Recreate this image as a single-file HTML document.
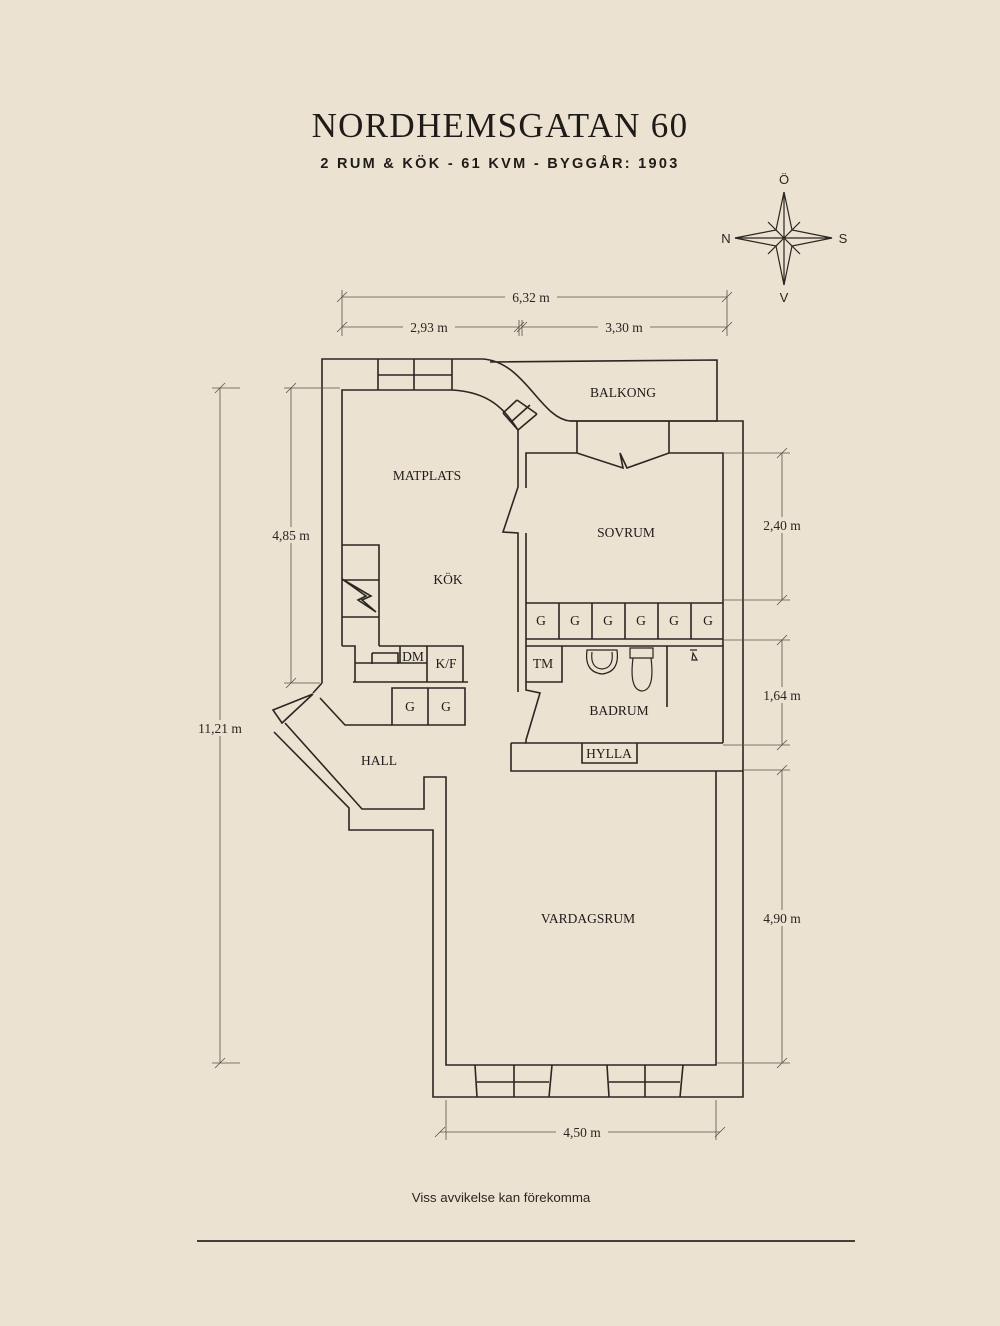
<!DOCTYPE html>
<html><head><meta charset="utf-8"><style>
html,body{margin:0;padding:0;background:#ebe2d1;}
svg{display:block}
</style></head><body>
<svg width="1000" height="1326" viewBox="0 0 1000 1326" xmlns="http://www.w3.org/2000/svg">
<rect width="1000" height="1326" fill="#ebe2d1"/>
<text x="500" y="137" text-anchor="middle" font-family="Liberation Serif, serif" font-size="35" fill="#1e1b18" letter-spacing="1.3">NORDHEMSGATAN 60</text>
<text x="500" y="168" text-anchor="middle" font-family="Liberation Sans, sans-serif" font-size="14.5" font-weight="bold" fill="#1e1b18" letter-spacing="2.3">2 RUM &amp; KÖK  -  61 KVM  -  BYGGÅR: 1903</text>

<!-- compass -->
<g stroke="#2a2622" stroke-width="1.2" fill="none">
<path d="M784,192 L792,230 L832,238 L792,246 L784,285 L776,246 L735,238 L776,230 Z"/>
<path d="M784,192 L784,285 M735,238 L832,238"/>
<path d="M776,230 L784,238 L792,230 M776,246 L784,238 L792,246"/>
<path d="M768,222 L778,232 M800,222 L790,232 M768,254 L778,244 M800,254 L790,244"/>
</g>
<g font-family="Liberation Sans, sans-serif" font-size="13" fill="#2a2622" text-anchor="middle">
<text x="784" y="184">Ö</text><text x="726" y="243">N</text><text x="843" y="243">S</text><text x="784" y="302">V</text>
</g>

<g stroke="#2a2622" stroke-width="1.6" fill="none" stroke-linejoin="miter">
<!-- outer walls -->
<path d="M322,683 L322,359 L483,359 C525,362 540,418 570,421 L717,421 L717,360 L490,362"/>
<path d="M570,421 L743,421 L743,1097 L433,1097 L433,830 L349,830 L349,808 L274,732"/>
<!-- kitchen inner -->
<path d="M342,646 L342,390 L452,390 C490,392 505,410 518,430 L518,487 L503,532 L518,533 L518,692"/>
<path d="M378,359 L378,390 M414,359 L414,390 M452,359 L452,390 M378,375 L452,375"/>
<path d="M503,413 L517,400 M511,422 L530,405 M518,430 L537,414 M503,413 L518,430 M517,400 L537,414"/>
<!-- stove -->
<path d="M342,545 L379,545 L379,646 M342,580 L379,580 M342,617 L379,617 M342,579 L371,596 L362,600 L376,612 L358,600 L366,596 Z"/>
<path d="M342,646 L355,646 L355,682 M355,663 L427,663 M379,646 L463,646 L463,682 M400,646 L400,663 M427,646 L427,682 M372,653 L398,653 L398,664 M372,653 L372,664"/>
<path d="M353,682 L468,682"/>
<!-- hall G G -->
<path d="M392,688 L465,688 L465,725 L392,725 Z M428,688 L428,725"/>
<path d="M320,698 L345,725 L392,725"/>
<path d="M322,683 L313,693 M313,694 L273,710 L282,723 L313,694"/>
<path d="M285,723 L362,809 L424,809 L424,777 L446,777 L446,1065 L716,1065 L716,771"/>
<!-- sovrum -->
<path d="M526,488 L526,453 L577,453 L623,468 L620,453 L627,468 L669,453 L723,453 L723,743"/>
<path d="M577,421 L577,453 M669,421 L669,453"/>
<path d="M526,533 L526,690 L540,693 L526,740 L526,743 L723,743"/>
<path d="M526,603 L723,603 M526,639 L723,639 M559,603 L559,639 M592,603 L592,639 M625,603 L625,639 M658,603 L658,639 M691,603 L691,639"/>
<path d="M526,646 L723,646 M526,682 L562,682 L562,646 M667,646 L667,707"/>
<path d="M511,743 L511,771 L743,771 M511,743 L526,743"/>
<path d="M582,743 L582,763 L637,763 L637,743"/>
<!-- windows bottom -->
<path d="M475,1065 L477,1097 M514,1065 L514,1097 M552,1065 L549,1097 M477,1082 L549,1082"/>
<path d="M607,1065 L609,1097 M645,1065 L645,1097 M683,1065 L680,1097 M609,1082 L680,1082"/>
</g>
<g stroke="#2a2622" stroke-width="1.2" fill="none">
<path d="M587,650 Q584,672 602,674 Q620,672 617,650 Z M592,652 Q590,668 602,669 Q614,668 612,652"/>
<path d="M630,648 L653,648 L653,658 L630,658 Z M633,658 Q629,690 642,691 Q655,690 651,658"/>
<path d="M690,650 L697,650 M693,653 L692,660 L697,660 Z"/>
</g>

<!-- dimension lines -->
<g stroke="#5a534c" stroke-width="0.8" fill="none">
<path d="M342,297 L727,297 M342,327 L519,327 M522,327 L727,327"/>
<path d="M342,290 L342,336 M727,290 L727,336 M519,320 L519,336 M522,320 L522,336"/>
<path d="M337,302 L347,292 M722,302 L732,292 M337,332 L347,322 M514,332 L524,322 M517,332 L527,322 M722,332 L732,322"/>
<path d="M220,388 L220,1063 M212,388 L240,388 M212,1063 L240,1063 M215,393 L225,383 M215,1068 L225,1058"/>
<path d="M291,388 L291,683 M284,388 L340,388 M284,683 L320,683 M286,393 L296,383 M286,688 L296,678"/>
<path d="M782,453 L782,600 M782,640 L782,745 M782,770 L782,1063"/>
<path d="M723,453 L790,453 M723,600 L790,600 M723,640 L790,640 M723,745 L790,745 M743,770 L790,770 M716,1063 L790,1063"/>
<path d="M777,458 L787,448 M777,605 L787,595 M777,645 L787,635 M777,750 L787,740 M777,775 L787,765 M777,1068 L787,1058"/>
<path d="M440,1132 L720,1132 M446,1100 L446,1140 M716,1100 L716,1140 M435,1137 L445,1127 M715,1137 L725,1127"/>
</g>
<g font-family="Liberation Serif, serif" font-size="13.5" fill="#2a2622" text-anchor="middle">
<rect x="505" y="289" width="52" height="16" fill="#ebe2d1"/><text x="531" y="302">6,32 m</text>
<rect x="403" y="319" width="52" height="16" fill="#ebe2d1"/><text x="429" y="332">2,93 m</text>
<rect x="598" y="319" width="52" height="16" fill="#ebe2d1"/><text x="624" y="332">3,30 m</text>
<rect x="193" y="720" width="54" height="16" fill="#ebe2d1"/><text x="220" y="733">11,21 m</text>
<rect x="266" y="527" width="50" height="16" fill="#ebe2d1"/><text x="291" y="540">4,85 m</text>
<rect x="757" y="517" width="50" height="16" fill="#ebe2d1"/><text x="782" y="530">2,40 m</text>
<rect x="757" y="687" width="50" height="16" fill="#ebe2d1"/><text x="782" y="700">1,64 m</text>
<rect x="757" y="910" width="50" height="16" fill="#ebe2d1"/><text x="782" y="923">4,90 m</text>
<rect x="556" y="1124" width="52" height="16" fill="#ebe2d1"/><text x="582" y="1137">4,50 m</text>
</g>
<g font-family="Liberation Serif, serif" font-size="13.5" fill="#1e1b18" text-anchor="middle">
<text x="623" y="397">BALKONG</text>
<text x="427" y="480">MATPLATS</text>
<text x="626" y="537">SOVRUM</text>
<text x="448" y="584">KÖK</text>
<text x="541" y="625">G</text><text x="575" y="625">G</text><text x="608" y="625">G</text><text x="641" y="625">G</text><text x="674" y="625">G</text><text x="708" y="625">G</text>
<text x="413" y="661">DM</text><text x="446" y="668">K/F</text>
<text x="543" y="668">TM</text>
<text x="410" y="711">G</text><text x="446" y="711">G</text>
<text x="619" y="715">BADRUM</text>
<text x="609" y="758">HYLLA</text>
<text x="379" y="765">HALL</text>
<text x="588" y="923">VARDAGSRUM</text>
</g>
<text x="501" y="1202" text-anchor="middle" font-family="Liberation Sans, sans-serif" font-size="13.3" fill="#2a2622">Viss avvikelse kan förekomma</text>
<path d="M197,1241 L855,1241" stroke="#2a2622" stroke-width="1.8"/>
</svg>
</body></html>
